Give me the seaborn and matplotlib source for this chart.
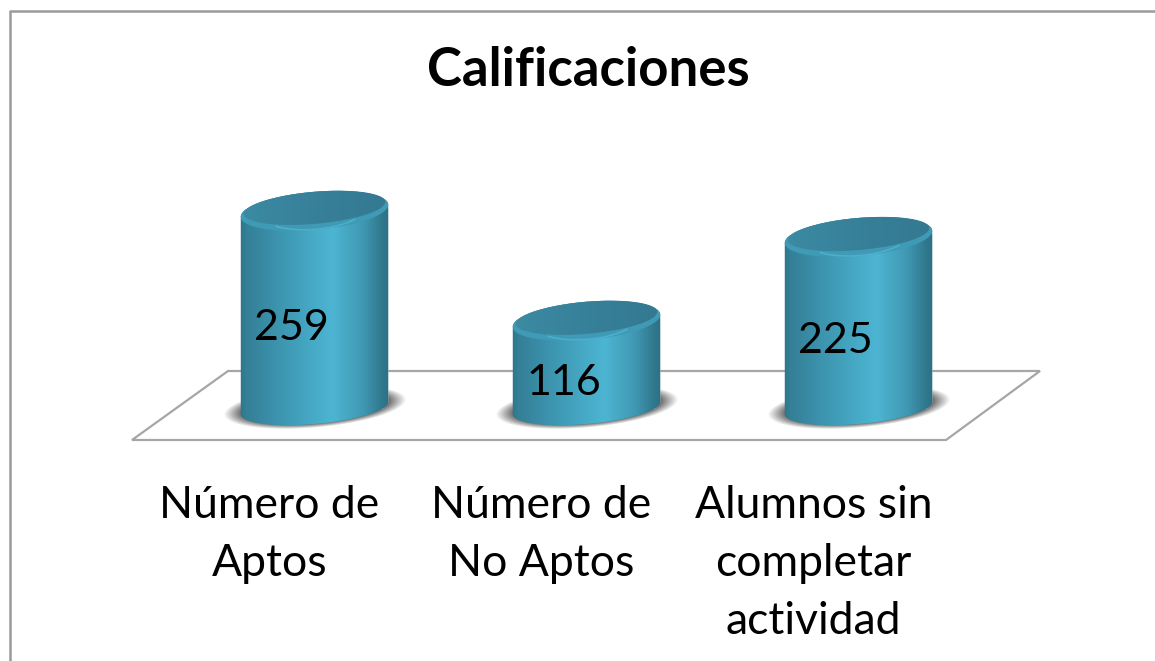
import numpy as np
import matplotlib
matplotlib.use('Agg')
import matplotlib.pyplot as plt
import seaborn as sns
from matplotlib.colors import LinearSegmentedColormap
from matplotlib.lines import Line2D
from matplotlib.patches import Polygon

categories = ['Número de\nAptos', 'Número de\nNo Aptos', 'Alumnos sin\ncompletar\nactividad']
values = [259, 116, 225]
title = 'Calificaciones'

W, H = 1155, 661
X0, SX = 314.5, 272.0   # px of first category, px per category
Y0, SY = 408.0, 0.769   # px of value 0, px per unit
AX_BOTTOM = 470
BAR_W = 147 / SX

side_cmap = LinearSegmentedColormap.from_list('side', [
    (0.0, '#2c7389'), (0.05, '#337f96'), (0.25, '#3c93ad'), (0.5, '#47abc7'),
    (0.62, '#4db5d2'), (0.82, '#3f98b3'), (0.94, '#31788d'), (1.0, '#2d6e81')])
face_cmap = LinearSegmentedColormap.from_list('face', ['#3c8aa3', '#37809a', '#347991'])


def ellipse(cx, v, a, b, t0=0, t1=2 * np.pi, angle=5):
    # tilted ellipse, a and b in px, returned in data coords
    t = np.linspace(t0, t1, 90)
    th = np.radians(angle)
    px = a * np.cos(t) * np.cos(th) - b * np.sin(t) * np.sin(th)
    py = a * np.cos(t) * np.sin(th) + b * np.sin(t) * np.cos(th)
    return np.column_stack([cx + px / SX, v + py / SY])


def from_px(px, py):
    return (px - X0) / SX, (Y0 - py) / SY


def shadow_image():
    # soft dark blob, 200x60 px
    xx, yy = np.meshgrid(np.linspace(-100, 100, 200), np.linspace(-30, 30, 60))
    th = np.radians(-5)
    u = xx * np.cos(th) + yy * np.sin(th)
    w = -xx * np.sin(th) + yy * np.cos(th)
    d = np.sqrt((u / 92) ** 2 + (w / 21) ** 2)
    img = np.zeros((60, 200, 4))
    img[..., :3] = 0.27
    img[..., 3] = 0.9 * np.clip((1 - d) / 0.22, 0, 1)
    return img


sns.set_theme(style='white')
plt.rcParams['font.family'] = ['Lato', 'DejaVu Sans']

fig = plt.figure(figsize=(W / 100, H / 100), dpi=100)
ax = fig.add_axes([0, 1 - AX_BOTTOM / H, 1, AX_BOTTOM / H])
sns.barplot(x=categories, y=values, color='#3c93ad', width=BAR_W, ax=ax, zorder=3)

# floor
floor = [from_px(132, 440), from_px(946, 440), from_px(1040, 371), from_px(228, 371)]
ax.add_patch(Polygon(floor, closed=True, facecolor='white', edgecolor='#a6a6a6', lw=1.6, zorder=1))

shadow = shadow_image()
for i, (bar, v) in enumerate(zip(ax.patches[:3], values)):
    cx = bar.get_x() + bar.get_width() / 2
    a = 74
    b = 19
    tv = v - 2 / SY

    # shadow under the cylinder
    ax.imshow(shadow, aspect='auto', zorder=2, interpolation='bilinear',
              extent=(cx - 100 / SX, cx + 100 / SX, 1 / SY - 30 / SY, 1 / SY + 30 / SY))

    # body
    body = np.vstack([ellipse(cx, 0, a, 16, np.pi, 2 * np.pi), ellipse(cx, tv, a, b, 0, np.pi)])
    clip = Polygon(body, transform=ax.transData)
    bar.set_clip_path(clip)
    im = ax.imshow(np.linspace(0, 1, 256).reshape(1, -1), cmap=side_cmap, aspect='auto',
                   extent=(cx - BAR_W / 2 - 0.01, cx + BAR_W / 2 + 0.01, -40, v + 40), zorder=4)
    im.set_clip_path(clip)

    # top: light rim then darker face
    ax.add_patch(Polygon(ellipse(cx, tv, a, b), facecolor='#3f9ab5', edgecolor='none', zorder=5))
    ax.add_patch(Polygon(ellipse(cx, tv, a - 22, b - 0.5, np.pi * 1.22, np.pi * 1.78),
                         closed=False, fill=False, edgecolor='#4cafcb', lw=1.2, zorder=5))
    top = Polygon(ellipse(cx, tv + 3 / SY, a - 3, b - 3), transform=ax.transData)
    im = ax.imshow(np.linspace(0, 1, 64).reshape(1, -1), cmap=face_cmap, aspect='auto',
                   extent=(cx - BAR_W / 2, cx + BAR_W / 2, v - 40, v + 40), zorder=6)
    im.set_clip_path(top)

    # value label
    ax.annotate(str(v), (cx, v / 2), xytext=(-23, -20), textcoords='offset pixels',
                ha='center', va='center', fontsize=31, color='black', zorder=7)

ax.set_xlim(-X0 / SX, (W - X0) / SX)
ax.set_ylim((Y0 - AX_BOTTOM) / SY, Y0 / SY)
ax.set_xticks(np.arange(3) - 45 / SX)
ax.set_xticklabels(categories, fontsize=32, color='black', linespacing=1.51)
ax.tick_params(axis='x', length=0, pad=11)
ax.set_yticks([])
ax.set_xlabel('')
ax.set_ylabel('')
sns.despine(ax=ax, left=True, bottom=True)
ax.patch.set_alpha(0)

fig.suptitle(title, x=588 / W, y=1 - 71 / H, va='center', fontsize=38, fontweight='bold', color='black')

# chart frame, only left and top fall inside the picture
fig.add_artist(Line2D([9.5 / W, 9.5 / W, 1], [0, 1 - 10.5 / H, 1 - 10.5 / H],
                      color='#9a9a9a', lw=1.8, transform=fig.transFigure))

fig.savefig('out.png', dpi=100)
